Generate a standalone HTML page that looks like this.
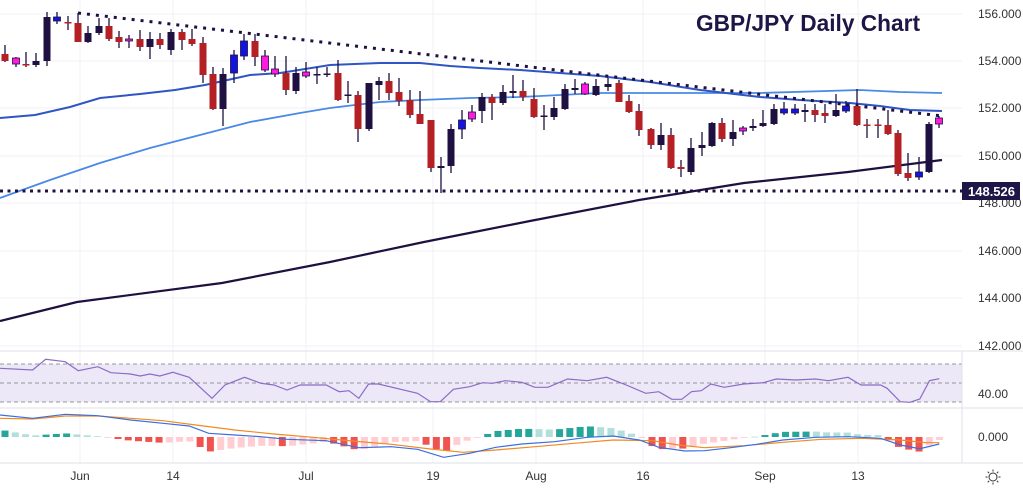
<!DOCTYPE html>
<html><head><meta charset="utf-8"><style>
html,body{margin:0;padding:0;background:#fff;width:1023px;height:489px;overflow:hidden}
svg{display:block}
text{font-family:"Liberation Sans Narrow","Liberation Sans",sans-serif}
</style></head><body>
<svg id="s" width="1023" height="489" xmlns="http://www.w3.org/2000/svg"></svg>
<script>
const S=document.getElementById('s');let h='';
const W=962;
[14,61,108,156,203,251,298,346].forEach(y=>h+=`<line x1="0" x2="${W}" y1="${y}" y2="${y}" stroke="#f0f2f6"/>`);
[80,173,306,433,536,643,765,858].forEach(x=>h+=`<line x1="${x}" x2="${x}" y1="0" y2="463" stroke="#f0f2f6"/>`);
[[156,14],[154,61],[152,108],[150,156],[146,251],[144,298],[142,346]].forEach(([p,y])=>h+=`<text x="978" y="${y+4}" font-size="12" fill="#333">${p}.000</text>`);
h+=`<text x="978" y="207" font-size="12" fill="#333">148.000</text>`;
h+=`<text x="696" y="31" font-size="23" font-weight="bold" fill="#1e1646" textLength="224" lengthAdjust="spacingAndGlyphs">GBP/JPY Daily Chart</text>`;
function pl(pts,c,w,extra=''){h+=`<polyline fill="none" stroke="${c}" stroke-width="${w}" ${extra} points="${pts.map(p=>p.join(',')).join(' ')}"/>`;}
pl([[0,198],[50,180],[100,163],[150,148],[200,135],[250,122],[300,113],[330,108],[380,102],[420,100],[470,98],[520,97],[600,93],[700,93],[760,93],[860,90],[900,92],[942,93]],'#4a8ae6',1.8);
pl([[0,118],[35,115],[70,107],[100,98],[140,94],[175,90],[205,85],[250,75],[280,73],[330,65],[380,63],[420,63],[450,66],[480,68],[520,70],[600,76],[650,82],[700,90],[760,97],[800,100],[850,103],[880,106],[910,110],[942,111]],'#2f55c4',2);
pl([[0,321],[77,302],[222,283],[330,262],[424,242],[530,221],[639,200],[744,183],[848,172],[942,160]],'#1e1040',2.2);
pl([[78,13],[942,116]],'#1e1040',3,'stroke-dasharray="3 6"');
pl([[0,191],[962,191]],'#1e1040',3,'stroke-dasharray="3 4.5"');
const C={R:'#b52025',N:'#1e1040',B:'#1414e0',M:'#ff1ae0'};
const cd=[[5,54,61,45,62,'R'],[16,58,64,57,67,'M'],[26,64,65,52,67,'R'],[36,61,65,53,67,'N'],[47,17,61,12,66,'N'],[57,17,21,12,24,'B'],[68,22,23,16,30,'R'],[78,23,42,13,42,'R'],[88,33,42,26,43,'N'],[99,26,33,18,35,'N'],[109,26,39,18,41,'R'],[119,37,42,31,48,'R'],[129,39,41,35,48,'M'],[140,39,47,30,51,'R'],[150,39,47,32,59,'N'],[160,39,45,33,49,'R'],[171,32,50,29,55,'N'],[182,32,40,29,50,'R'],[192,39,44,29,46,'R'],[203,43,75,37,83,'R'],[213,74,109,67,110,'R'],[223,74,109,68,126,'N'],[234,55,73,50,83,'B'],[244,41,56,34,60,'B'],[255,41,57,34,66,'R'],[265,56,70,50,72,'M'],[275,69,74,56,77,'M'],[286,73,90,56,95,'R'],[296,73,91,67,94,'N'],[306,72,76,62,78,'M'],[317,74,75.5,67,84,'N'],[327,73.5,75,67,77,'N'],[338,73,100,60,101,'R'],[348,94.5,96,81,103,'N'],[358,95,129,91,142,'R'],[369,83,129,83,131,'N'],[379,81,85,77,100,'N'],[389,81,93,73,100,'R'],[399,92,101,78,106,'R'],[410,100,115,90,118,'R'],[420,114,124,91,124,'R'],[431,120,168,120,172,'R'],[441,166,168,157,193,'N'],[451,129,166,124,173,'N'],[462,120,129,110,139,'B'],[472,112,119,105,122,'M'],[482,97,111,93,123,'N'],[492,97,103,94,120,'R'],[503,92,103,85,105,'N'],[513,91,93,75,98,'N'],[523,91,97,80,101,'R'],[534,99,117,88,118,'R'],[544,115.5,117,105,130,'N'],[554,108,117,97,120,'N'],[565,89,109,84,110,'N'],[575,88,90,79,94,'N'],[585,84,94,82,95,'M'],[596,86,95,79,96,'N'],[608,84,87,78,91,'N'],[619,83,102,80,102,'R'],[629,101,112,95,113,'R'],[639,111,130,104,136,'R'],[651,129,145,128,149,'R'],[661,135,145,123,150,'N'],[671,135,168,128,169,'R'],[681,167,169,160,177,'R'],[691,148,172,138,175,'N'],[702,145,148,132,156,'N'],[712,123,146,122,147,'N'],[722,123,139,118,142,'R'],[733,132,139,120,146,'N'],[743,128,131,126,135,'M'],[753,126,128,119,131,'N'],[763,123,126,110,127,'N'],[774,109,124,104,125,'N'],[784,109,113,102,115,'B'],[795,109,113,104,115,'B'],[805,110,112,104,122,'N'],[815,110,115,104,122,'R'],[825,113,116,104,123,'R'],[836,110,116,94,117,'N'],[846,106,111,101,113,'B'],[857,106,125,89,126,'R'],[867,124.5,126,119,138,'R'],[878,124.5,126,119,138,'R'],[888,125,134,110,135,'R'],[898,133,174,130,176,'R'],[908,173,178,153,181,'R'],[919,172,177,157,180,'B'],[929,124,172,122,173,'N'],[939,118,124,116,128,'M']];
cd.forEach(([x,o,c,hi,lo,k])=>{const t=Math.min(o,c),b=Math.max(o,c);
h+=`<line x1="${x}" x2="${x}" y1="${hi}" y2="${lo}" stroke="#1e1040" stroke-width="1.3"/>`;
h+=`<rect x="${x-3.5}" y="${t}" width="7" height="${Math.max(b-t,1.5)}" fill="${C[k]}" ${k=='M'||k=='B'?'stroke="#1e1040" stroke-width="0.8"':''}/>`;});
h+=`<rect x="962" y="182" width="58" height="18" fill="#1e1646"/><text x="968" y="196" font-size="13" font-weight="bold" fill="#fff">148.526</text>`;
h+=`<rect x="0" y="364" width="${W}" height="38" fill="#ede8f8"/>`;
[364,383,402].forEach(y=>h+=`<line x1="0" x2="${W}" y1="${y}" y2="${y}" stroke="#777" stroke-dasharray="4 3" stroke-width="0.8"/>`);
[351,408,463].forEach(y=>h+=`<line x1="0" x2="1023" y1="${y}" y2="${y}" stroke="#dfe2ea"/>`);
h+=`<line x1="${W}" x2="${W}" y1="351" y2="463" stroke="#dfe2ea"/>`;
const cv=a=>a.map(([x,y])=>[(x/1.533).toFixed(1),(y/3+350).toFixed(1)]);
pl(cv([[0,55],[50,60],[70,28],[100,35],[120,62],[150,50],[170,68],[200,72],[215,78],[230,72],[245,78],[265,67],[290,82],[325,145],[345,105],[375,82],[400,100],[420,105],[440,120],[460,105],[500,105],[520,125],[535,122],[550,145],[565,102],[580,102],[640,130],[660,155],[675,155],[695,118],[720,110],[740,98],[755,100],[775,92],[800,97],[820,112],[840,112],[870,87],[900,92],[930,82],[960,105],[990,130],[1010,125],[1030,148],[1045,148],[1060,125],[1075,122],[1090,102],[1110,112],[1140,102],[1170,98],[1190,87],[1220,90],[1250,87],[1270,92],[1300,82],[1320,105],[1350,105],[1360,115],[1380,155],[1395,157],[1410,147],[1425,92],[1440,86]]),'#8a6cc4',1.2);
h+=`<text x="978" y="398" font-size="12" fill="#333">40.00</text><text x="978" y="441" font-size="12" fill="#333">0.000</text>`;
const mb=[[0,195],[50,205],[100,193],[150,197],[200,210],[250,220],[290,228],[320,250],[360,255],[400,260],[440,268],[500,272],[550,293],[600,290],[640,298],[680,322],[720,310],[760,292],[800,282],[850,275],[900,262],[940,258],[980,270],[1010,292],[1050,303],[1080,302],[1120,293],[1160,283],[1200,270],[1250,262],[1300,260],[1350,265],[1380,285],[1410,296],[1440,282]];
const mo=[[0,205],[50,207],[100,198],[150,198],[200,205],[250,212],[300,225],[360,240],[420,252],[480,262],[540,273],[600,283],[660,297],[710,307],[760,300],[820,290],[880,280],[940,270],[1000,272],[1040,285],[1080,293],[1140,287],[1200,277],[1260,268],[1320,265],[1380,270],[1420,278],[1440,278]];
function itp(a,x){for(let i=0;i<a.length-1;i++)if(x>=a[i][0]&&x<=a[i+1][0]){const t=(x-a[i][0])/(a[i+1][0]-a[i][0]);return a[i][1]+t*(a[i+1][1]-a[i][1]);}return a[a.length-1][1];}
let prev=0;
for(let i=0;i<92;i++){const X=5+i*10.27,zx=X*1.533;const d=(itp(mo,zx)-itp(mb,zx))/3*2.2;
const grow=Math.abs(d)>=Math.abs(prev);const col=d>=0?(grow?'#26a69a':'#b2dfdb'):(grow?'#ef5350':'#ffcdd2');prev=d;
const y0=437,y1=437-d;h+=`<rect x="${X-3.5}" y="${Math.min(y0,y1)}" width="7" height="${Math.max(Math.abs(d),0.8)}" fill="${col}"/>`;}
pl(cv(mo),'#f08a24',1.2);pl(cv(mb),'#3a6fe0',1.2);
[['Jun',80],['14',173],['Jul',306],['19',433],['Aug',536],['16',643],['Sep',765],['13',858]].forEach(([t,x])=>h+=`<text x="${x}" y="480" font-size="12" fill="#333" text-anchor="middle">${t}</text>`);
h+=`<circle cx="993" cy="477" r="4" fill="none" stroke="#333"/>`;
for(let a=0;a<8;a++){const r=a*Math.PI/4;h+=`<line x1="${993+5.5*Math.cos(r)}" y1="${477+5.5*Math.sin(r)}" x2="${993+7.5*Math.cos(r)}" y2="${477+7.5*Math.sin(r)}" stroke="#333"/>`;}
S.innerHTML=h;
</script>
</body></html>
